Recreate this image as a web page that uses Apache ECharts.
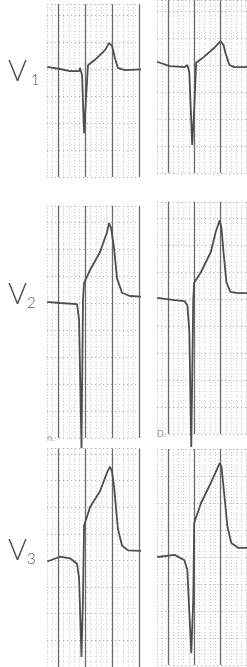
<!DOCTYPE html>
<html>
<head>
<meta charset="utf-8">
<script src="https://cdn.jsdelivr.net/npm/echarts@6/dist/echarts.min.js"></script>
<style>
  html, body { margin: 0; padding: 0; background: #fff; }
  #ecg { width: 247px; height: 667px; }
</style>
</head>
<body>
<div id="ecg"></div>
<script>
// ECG precordial leads, two beats each. [time s, amplitude mV]
let leadNames = ['V', 'V', 'V'];
let leadSubs = ['1', '2', '3'];
let beatLabels = ['n.', 'D.'];

let v1a = [[-0.08,0.04],[0.015,0],[0.089,-0.04],[0.156,-0.04],[0.163,0.02],[0.178,-0.11],[0.193,-1.19],
  [0.207,-0.57],[0.222,0.07],[0.274,0.17],[0.348,0.35],[0.378,0.48],[0.400,0.43],[0.422,0.20],[0.444,0.02],
  [0.496,-0.02],[0.667,0]];
let v1b = [[-0.08,0.06],[0.015,-0.02],[0.126,-0.04],[0.148,0],[0.163,-0.13],[0.185,-1.48],[0.200,-0.83],
  [0.215,0.04],[0.274,0.15],[0.348,0.31],[0.400,0.44],[0.422,0.37],[0.437,0.22],[0.467,0],[0.504,-0.04],
  [0.607,-0.04]];
let v2a = [[-0.08,0.02],[0.015,0],[0.141,-0.02],[0.156,-0.31],[0.174,-2.69],[0.185,0.06],[0.193,0.37],
  [0.237,0.61],[0.311,0.94],[0.363,1.31],[0.378,1.48],[0.393,1.39],[0.415,1.02],[0.437,0.46],[0.474,0.19],
  [0.533,0.13],[0.681,0.11]];
let v2b = [[-0.08,0.02],[0.052,-0.02],[0.126,-0.04],[0.148,-0.11],[0.163,-0.57],[0.178,-2.74],[0.193,-0.02],
  [0.200,0.30],[0.252,0.50],[0.326,0.87],[0.363,1.24],[0.393,1.46],[0.407,1.31],[0.422,0.87],[0.444,0.31],
  [0.474,0.13],[0.533,0.11],[0.607,0.11]];
let v3a = [[-0.08,-0.02],[0.015,0.07],[0.089,0.04],[0.141,-0.06],[0.156,-0.33],[0.174,-1.81],[0.185,-0.70],
  [0.193,0.65],[0.237,1.00],[0.311,1.30],[0.363,1.65],[0.385,1.76],[0.400,1.67],[0.415,1.39],[0.444,0.59],
  [0.474,0.28],[0.519,0.19],[0.681,0.17]];
let v3b = [[-0.08,0],[0.052,0.04],[0.126,-0.06],[0.148,-0.24],[0.178,-1.78],[0.193,-0.80],[0.200,0.63],
  [0.252,1.00],[0.326,1.37],[0.393,1.74],[0.407,1.67],[0.422,1.30],[0.452,0.56],[0.481,0.26],[0.533,0.17],
  [0.607,0.17]];

// paper speed 25 mm/s, 10 mm/mV, 1 mm = 5.4 px
const PX_S = 135, PX_MV = 54;

// strip placement: x of t=0, y of baseline, amplitude range
let strips = [
  { data: v1a, x0: 58,  base: 69,  yMin: -2.0, yMax: 1.2 },
  { data: v1b, x0: 168, base: 65,  yMin: -2.0, yMax: 1.2 },
  { data: v2a, x0: 58,  base: 303, yMin: -2.5, yMax: 1.8 },
  { data: v2b, x0: 168, base: 299, yMin: -2.5, yMax: 1.8 },
  { data: v3a, x0: 58,  base: 562, yMin: -2.0, yMax: 2.1 },
  { data: v3b, x0: 168, base: 557, yMin: -2.0, yMax: 2.0 }
];
const xMin = -0.08, xMax = 0.6;

let clear = 'rgba(0,0,0,0)';
let grid = [], xAxis = [], yAxis = [], series = [];

strips.forEach((s, i) => {
  grid.push({
    left: s.x0 + xMin * PX_S,
    top: s.base - s.yMax * PX_MV,
    width: (xMax - xMin) * PX_S,
    height: (s.yMax - s.yMin) * PX_MV
  });
  let hidden = { axisLine: { show: false }, axisTick: { show: false }, axisLabel: { show: false } };
  // small boxes
  xAxis.push(Object.assign({
    type: 'value', gridIndex: i, min: xMin, max: xMax, interval: 0.04, position: 'bottom',
    splitLine: { show: true, lineStyle: { color: '#c4c4c4', width: 1, type: [1, 2] } }
  }, hidden));
  // large boxes (every 0.2 s)
  xAxis.push(Object.assign({
    type: 'value', gridIndex: i, min: xMin, max: xMax, interval: 0.04, position: 'top',
    splitLine: { show: true, lineStyle: { color: [clear, clear, '#6a6a6a', clear, clear], width: 1.3 } }
  }, hidden));
  yAxis.push(Object.assign({
    type: 'value', gridIndex: i, min: s.yMin, max: s.yMax, interval: 0.5,
    splitLine: { show: true, lineStyle: { color: '#9c9c9c', width: 1, type: [1, 3] } },
    minorTick: { show: false, splitNumber: 5 },
    minorSplitLine: { show: true, lineStyle: { color: '#dcdcdc', width: 1, type: [1, 3] } }
  }, hidden));
  series.push({
    type: 'line', xAxisIndex: i * 2, yAxisIndex: i, data: s.data,
    showSymbol: false, symbol: 'none', clip: false, smooth: false,
    lineStyle: { color: '#4e4e4e', width: 1.8 }, z: 5
  });
});

let labelFont = 'Lato, "Open Sans", "Liberation Sans", sans-serif';
let labelRows = [74, 297, 553];
let graphic = [];
labelRows.forEach((y, i) => {
  graphic.push({
    type: 'text', left: 8, top: y - 17,
    style: { text: leadNames[i], font: '300 29px ' + labelFont, fill: '#4a4a4a' }
  });
  graphic.push({
    type: 'text', left: i === 0 ? 31 : 27, top: y - 1,
    style: { text: leadSubs[i], font: '300 15px ' + labelFont, fill: '#555' }
  });
});
graphic.push({ type: 'text', left: 47, top: 434, style: { text: beatLabels[0], font: '9px ' + labelFont, fill: '#9a9a9a' } });
graphic.push({ type: 'text', left: 157, top: 430, style: { text: beatLabels[1], font: '9px ' + labelFont, fill: '#9a9a9a' } });

var chart = echarts.init(document.getElementById('ecg'));
chart.setOption({
  animation: false,
  backgroundColor: '#ffffff',
  grid: grid,
  xAxis: xAxis,
  yAxis: yAxis,
  series: series,
  graphic: graphic
});
</script>
</body>
</html>
